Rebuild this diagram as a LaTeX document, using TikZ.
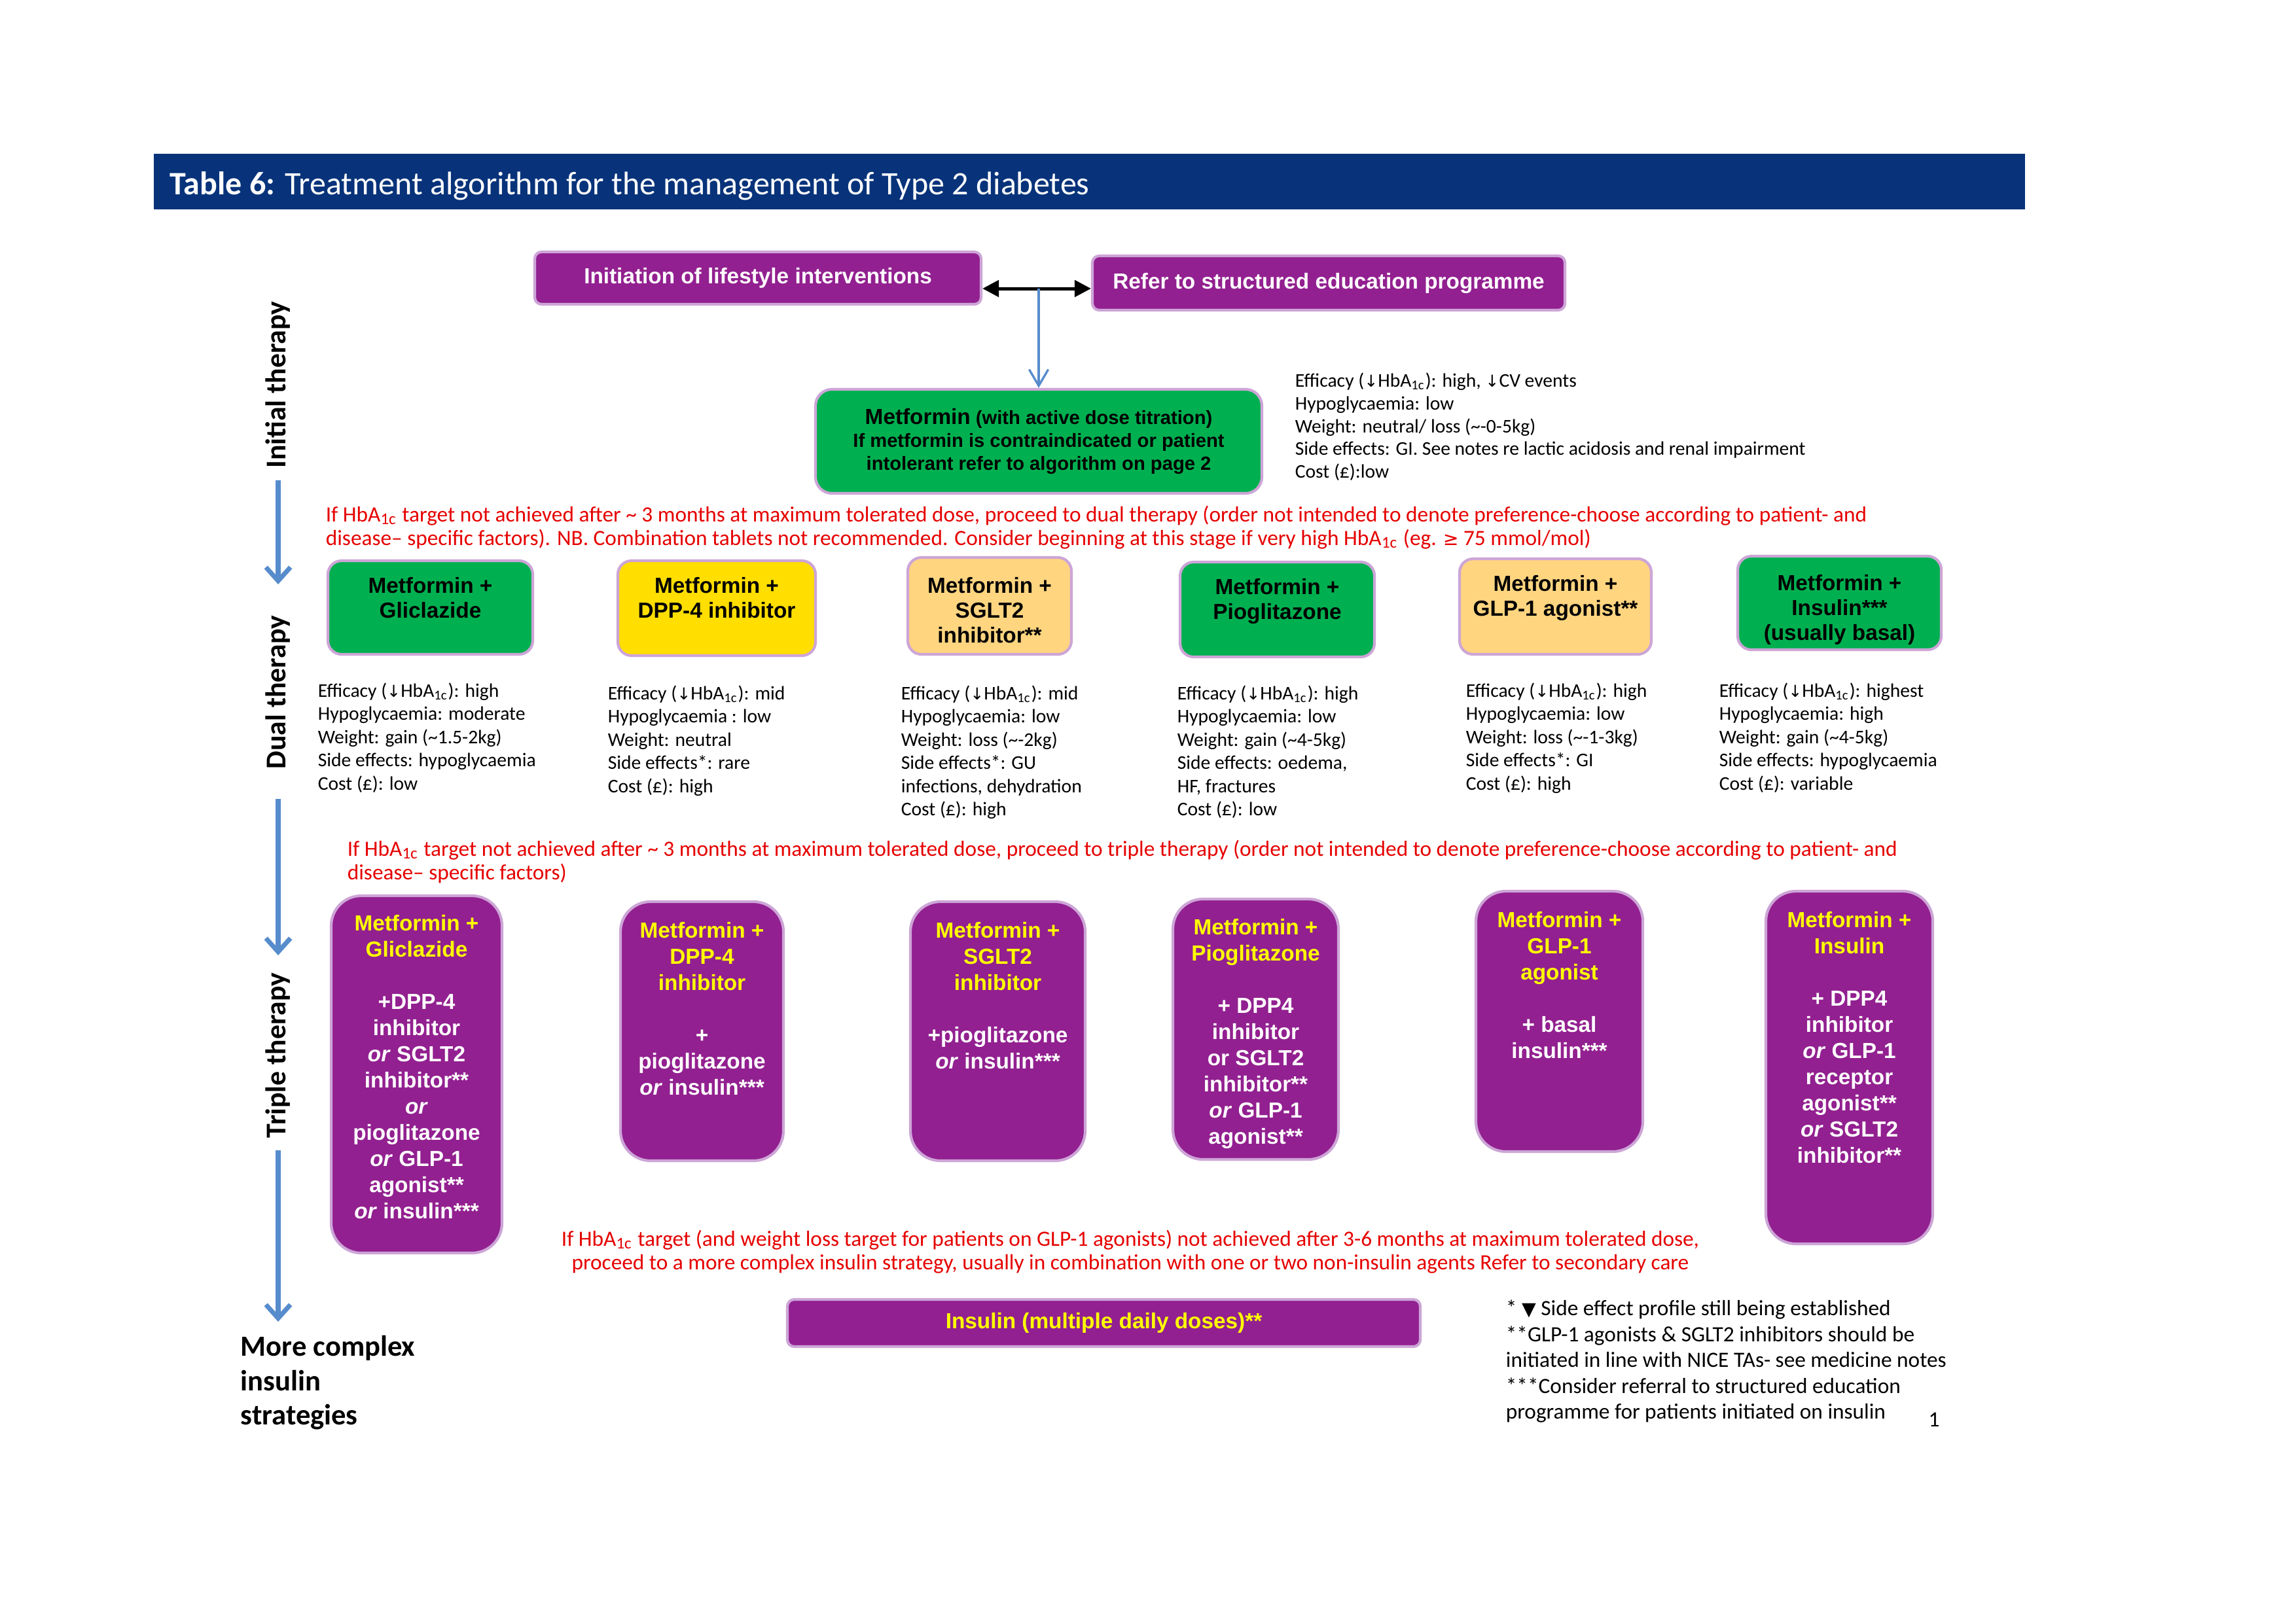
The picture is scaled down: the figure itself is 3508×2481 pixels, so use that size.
\documentclass[tikz,border=0pt]{standalone}
\usepackage{fontspec}
\setmainfont{Carlito}
\newfontfamily\arial{Liberation Sans}
\newfontfamily\symf[Scale=0.85]{DejaVu Sans}
\usetikzlibrary{arrows.meta,calc,fit}
\definecolor{titleblue}{RGB}{8,51,122}
\definecolor{purp}{RGB}{146,32,144}
\definecolor{grn}{RGB}{0,176,80}
\definecolor{yel}{RGB}{255,222,0}
\definecolor{org}{RGB}{255,213,128}
\definecolor{redt}{RGB}{230,0,0}
\definecolor{bluearr}{RGB}{86,140,204}
\definecolor{edge}{RGB}{205,165,215}
\definecolor{ytext}{RGB}{255,255,0}
\newcommand{\dn}{{\symf ↓}}
\newcommand{\hba}{HbA\textsubscript{1c}}
\newcommand{\yl}[1]{\textcolor{ytext}{#1}}
\begin{document}
\begin{tikzpicture}[x=0.24pt,y=-0.24pt,
  lbox/.style={rectangle, draw=edge, line width=1pt, inner sep=0pt, rounded corners=2.5pt},
  dbox/.style={rectangle, draw=edge, line width=1pt, inner sep=0pt, rounded corners=5pt},
  tbox/.style={rectangle, fill=purp, draw=edge, line width=1pt, inner sep=0pt, rounded corners=11pt},
  boxfont/.style={inner sep=0pt, font=\arial\bfseries\fontsize{8}{9.6}\selectfont},
  dtext/.style={anchor=north, inner sep=0pt, align=center, font=\arial\bfseries\fontsize{8}{9.1}\selectfont},
  ttext/.style={anchor=north, inner sep=0pt, align=center, text=white, font=\arial\bfseries\fontsize{8}{9.6}\selectfont},
  infot/.style={anchor=north west, inner sep=0pt, align=left, font=\fontsize{7.1}{8.5}\selectfont},
  redtxt/.style={text=redt, inner sep=0pt, font=\fontsize{8}{8.6}\selectfont},
  stage/.style={rotate=90, inner sep=0pt, font=\bfseries\fontsize{10.5}{12}\selectfont},
  bigarrow/.style={draw=bluearr, line width=1.7pt, -{Straight Barb[length=5pt,width=9pt]}},
  thinarrow/.style={draw=bluearr, line width=0.8pt, -{Straight Barb[length=6pt,width=7pt]}},
  dblarrow/.style={draw=black, line width=1.2pt, {Triangle[length=6pt,width=6pt]}-{Triangle[length=6pt,width=6pt]}}
]
\useasboundingbox (0,0) rectangle (3508,2481);
\fill[white] (0,0) rectangle (3508,2481);

% title
\node[fill=titleblue, inner sep=0pt, fit={(235,235) (3094,320)}] (bar) {};
\node[anchor=base west, inner sep=0pt, text=white, font=\fontsize{12}{14}\selectfont] (title) at (259,297)
  {\textbf{Table 6:} Treatment algorithm for the management of Type 2 diabetes};

% initial therapy
\node[lbox, fill=purp, fit={(817,385) (1499,465)}] (life) {};
\node[boxfont, text=white] (lifet) at (life.center) {Initiation of lifestyle interventions};
\node[lbox, fill=purp, fit={(1669,391) (2391,474)}] (refer) {};
\node[boxfont, text=white] (refert) at (refer.center) {Refer to structured education programme};
\node[dbox, fill=grn, rounded corners=6pt, fit={(1246,595) (1928,754)}] (met) {};
\node[inner sep=0pt, align=center, font=\arial\bfseries\fontsize{7}{8.4}\selectfont] (mett) at (met.center)
  {{\fontsize{8}{8.4}\selectfont Metformin} (with active dose titration)\\If metformin is contraindicated or patient\\intolerant refer to algorithm on page 2};
\coordinate (mid) at (1587,441);
\draw[dblarrow] (life.east |- mid) -- (refer.west |- mid);
\draw[thinarrow] (mid) -- (met.north);
\node[infot, font=\fontsize{7.1}{8.35}\selectfont] (metinfo) at (1978,569) {Efficacy (\dn\hba): high, \dn CV events\\Hypoglycaemia: low\\Weight: neutral/ loss (\textasciitilde-0-5kg)\\Side effects: GI. See notes re lactic acidosis and renal impairment\\Cost (£):low};

\node[redtxt, anchor=north west, align=left] (r1) at (497,772)
  {If \hba{} target not achieved after \textasciitilde{} 3 months at maximum tolerated dose, proceed to dual therapy (order not intended to denote preference-choose according to patient- and\\disease– specific factors). NB. Combination tablets not recommended. Consider beginning at this stage if very high \hba{} (eg. {\symf ≥} 75 mmol/mol)};

% dual therapy
\node[dbox, fill=grn, fit={(501,857) (814,1000)}] (d1) {};
\node[dbox, fill=yel, fit={(944,857) (1246,1002)}] (d2) {};
\node[dbox, fill=org, fit={(1387,852) (1637,1000)}] (d3) {};
\node[dbox, fill=grn, fit={(1803,859) (2100,1004)}] (d4) {};
\node[dbox, fill=org, fit={(2230,854) (2523,1000)}] (d5) {};
\node[dbox, fill=grn, fit={(2655,850) (2966,993)}] (d6) {};
\node[dtext] (d1t) at ($(d1.north)+(0,27)$) {Metformin +\\Gliclazide};
\node[dtext] (d2t) at ($(d2.north)+(0,27)$) {Metformin +\\DPP-4 inhibitor};
\node[dtext] (d3t) at ($(d3.north)+(0,32)$) {Metformin +\\SGLT2\\inhibitor**};
\node[dtext] (d4t) at ($(d4.north)+(0,27)$) {Metformin +\\Pioglitazone};
\node[dtext] (d5t) at ($(d5.north)+(0,27)$) {Metformin +\\GLP-1 agonist**};
\node[dtext] (d6t) at ($(d6.north)+(0,30)$) {Metformin +\\Insulin***\\(usually basal)};

\node[infot] (i1) at (485,1043) {Efficacy (\dn\hba): high\\Hypoglycaemia: moderate\\Weight: gain (\textasciitilde1.5-2kg)\\Side effects: hypoglycaemia\\Cost (£): low};
\node[infot] (i2) at (928,1047) {Efficacy (\dn\hba): mid\\Hypoglycaemia : low\\Weight: neutral\\Side effects*: rare\\Cost (£): high};
\node[infot] (i3) at (1376,1047) {Efficacy (\dn\hba): mid\\Hypoglycaemia: low\\Weight: loss (\textasciitilde-2kg)\\Side effects*: GU\\infections, dehydration\\Cost (£): high};
\node[infot] (i4) at (1798,1047) {Efficacy (\dn\hba): high\\Hypoglycaemia: low\\Weight: gain (\textasciitilde4-5kg)\\Side effects: oedema,\\HF, fractures\\Cost (£): low};
\node[infot] (i5) at (2239,1043) {Efficacy (\dn\hba): high\\Hypoglycaemia: low\\Weight: loss (\textasciitilde-1-3kg)\\Side effects*: GI\\Cost (£): high};
\node[infot] (i6) at (2626,1043) {Efficacy (\dn\hba): highest\\Hypoglycaemia: high\\Weight: gain (\textasciitilde4-5kg)\\Side effects: hypoglycaemia\\Cost (£): variable};

\node[redtxt, anchor=north west, align=left] (r2) at (530,1283)
  {If \hba{} target not achieved after \textasciitilde{} 3 months at maximum tolerated dose, proceed to triple therapy (order not intended to denote preference-choose according to patient- and\\disease– specific factors)};

% triple therapy
\node[tbox, fit={(506,1369) (767,1915)}] (t1) {};
\node[tbox, fit={(948,1378) (1197,1774)}] (t2) {};
\node[tbox, fit={(1391,1378) (1658,1774)}] (t3) {};
\node[tbox, fit={(1792,1374) (2045,1772)}] (t4) {};
\node[tbox, fit={(2255,1362) (2510,1760)}] (t5) {};
\node[tbox, fit={(2698,1362) (2953,1901)}] (t6) {};
\node[ttext] (t1t) at ($(t1.north)+(0,31)$) {\yl{Metformin +}\\\yl{Gliclazide}\\[9.6pt]+DPP-4\\inhibitor\\\textit{or} SGLT2\\inhibitor**\\\textit{or}\\pioglitazone\\\textit{or} GLP-1\\agonist**\\\textit{or} insulin***};
\node[ttext] (t2t) at ($(t2.north)+(0,33)$) {\yl{Metformin +}\\\yl{DPP-4}\\\yl{inhibitor}\\[9.6pt]+\\pioglitazone\\\textit{or} insulin***};
\node[ttext] (t3t) at ($(t3.north)+(0,33)$) {\yl{Metformin +}\\\yl{SGLT2}\\\yl{inhibitor}\\[9.6pt]+pioglitazone\\\textit{or} insulin***};
\node[ttext] (t4t) at ($(t4.north)+(0,32)$) {\yl{Metformin +}\\\yl{Pioglitazone}\\[9.6pt]+ DPP4\\inhibitor\\or SGLT2\\inhibitor**\\\textit{or} GLP-1\\agonist**};
\node[ttext] (t5t) at ($(t5.north)+(0,33)$) {\yl{Metformin +}\\\yl{GLP-1}\\\yl{agonist}\\[9.6pt]+ basal\\insulin***};
\node[ttext] (t6t) at ($(t6.north)+(0,33)$) {\yl{Metformin +}\\\yl{Insulin}\\[9.6pt]+ DPP4\\inhibitor\\\textit{or} GLP-1\\receptor\\agonist**\\\textit{or} SGLT2\\inhibitor**};

\node[redtxt, anchor=north, align=center] (r3) at (1727,1879)
  {If \hba{} target (and weight loss target for patients on GLP-1 agonists) not achieved after 3-6 months at maximum tolerated dose,\\proceed to a more complex insulin strategy, usually in combination with one or two non-insulin agents Refer to secondary care};

\node[lbox, fill=purp, fit={(1203,1986) (2170,2058)}] (mdd) {};
\node[boxfont, text=ytext] (mddt) at (mdd.center) {Insulin (multiple daily doses)**};

\node[anchor=north west, align=left, inner sep=0pt, font=\fontsize{8}{9.5}\selectfont] (fn) at (2300,1986)
  {* {\symf ▼} Side effect profile still being established\\**GLP-1 agonists \& SGLT2 inhibitors should be\\initiated in line with NICE TAs- see medicine notes\\***Consider referral to structured education\\programme for patients initiated on insulin};
\node[inner sep=0pt, font=\fontsize{8}{9}\selectfont] (pg) at (2955,2170) {1};

% stage labels and arrows
\node[stage] (lab1) at (425,588) {Initial therapy};
\node[stage] (lab2) at (425,1058) {Dual therapy};
\node[stage] (lab3) at (425,1613) {Triple therapy};
\node[anchor=north west, align=left, inner sep=0pt, font=\bfseries\fontsize{10.7}{12.7}\selectfont] (more) at (367,2040) {More complex\\insulin\\strategies};
\draw[bigarrow, shorten <=4.3pt, shorten >=11.3pt] (lab1.west) -- (lab2.east);
\draw[bigarrow, shorten <=10.8pt, shorten >=6.2pt] (lab2.west) -- (lab3.east);
\draw[bigarrow, shorten <=4.3pt, shorten >=4.8pt] (lab3.west) -- (lab3.west |- more.north);
\end{tikzpicture}
\end{document}
